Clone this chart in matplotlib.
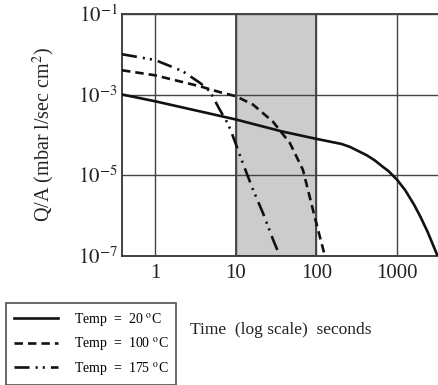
import matplotlib
matplotlib.use("Agg")
import matplotlib.pyplot as plt
from matplotlib.lines import Line2D

plt.rcParams["font.family"] = ["Liberation Serif", "DejaVu Serif"]
plt.rcParams["mathtext.fontset"] = "stix"

# Leak rate per unit area vs. pump-down time at three bake temperatures
t_20 = [0.39, 1, 10, 38, 100, 205, 260, 420, 530, 670, 780, 1000, 1260, 1630, 1950, 2370, 3160]
q_20 = [1.0e-3, 6.8e-4, 2.4e-4, 1.2e-4, 7.9e-5, 5.9e-5, 5.0e-5, 3.1e-5, 2.3e-5, 1.58e-5,
        1.26e-5, 7.6e-6, 4.2e-6, 1.8e-6, 9.1e-7, 4.0e-7, 1.0e-7]

t_100 = [0.39, 1, 3.6, 6.3, 10, 16.4, 29, 47, 68, 84, 95, 110, 127]
q_100 = [4.0e-3, 3.0e-3, 1.6e-3, 1.15e-3, 9.1e-4, 5.6e-4, 2.1e-4, 6.2e-5, 1.35e-5,
         2.5e-6, 9.3e-7, 3.0e-7, 1.0e-7]

t_175 = [0.39, 1, 2.2, 3.6, 4.8, 6.3, 8.1, 9.3, 11.8, 16.4, 21.9, 29, 35]
q_175 = [1.0e-2, 7.2e-3, 3.8e-3, 1.95e-3, 1.2e-3, 4.3e-4, 1.8e-4, 8.9e-5, 2.4e-5,
         4.3e-6, 1.1e-6, 2.5e-7, 1.0e-7]

labels = ["Temp  =  20 $^{\\mathrm{o}}$C",
          "Temp  =  100 $^{\\mathrm{o}}$C",
          "Temp  =  175 $^{\\mathrm{o}}$C"]

x_ticks = [1, 10, 100, 1000]
x_ticklabels = ["1", "10", "100", "1000"]
y_ticks = [1e-7, 1e-5, 1e-3, 1e-1]
y_ticklabels = ["$10^{-7}$", "$10^{-5}$", "$10^{-3}$", "$10^{-1}$"]
band = (10, 100)

W, H = 439, 385
fig = plt.figure(figsize=(W / 100, H / 100), dpi=100)
ax = fig.add_axes([122 / W, 1 - 255.5 / H, (441 - 122) / W, (255.5 - 14) / H])

ax.set_xscale("log")
ax.set_yscale("log")
ax.set_xlim(0.39, 3500)
ax.set_ylim(1e-7, 1e-1)

ax.axvspan(*band, facecolor="#cccccc", edgecolor="#333333", linewidth=1.2, zorder=0.5)

ax.set_xticks(x_ticks)
ax.set_xticklabels(x_ticklabels)
ax.set_yticks(y_ticks)
ax.set_yticklabels(y_ticklabels)
ax.minorticks_off()
ax.tick_params(length=0, labelsize=15, colors="#222222")
ax.tick_params(axis="x", pad=6)
ax.tick_params(axis="y", pad=3)
ax.grid(True, color="#444444", linewidth=1.0, zorder=0.8)
ax.set_axisbelow(False)
for s in ax.spines.values():
    s.set_color("#333333")
    s.set_linewidth(1.3)
ax.spines["right"].set_visible(False)

lw = 1.9
ls_100 = (0, (3.2, 1.9))
ls_175 = (0, (5.7, 2.3, 0.8, 1.9, 0.8, 2.3))
ax.plot(t_20, q_20, color="#111111", lw=lw, linestyle="-", zorder=3)
ax.plot(t_100, q_100, color="#111111", lw=lw, linestyle=ls_100, zorder=3)
ax.plot(t_175, q_175, color="#111111", lw=lw, linestyle=ls_175, zorder=3)

ax.set_ylabel("Q/A (mbar l/sec cm$^2$)", fontsize=14.5, color="#222222", labelpad=15)

handles = [Line2D([], [], color="#111111", lw=lw, linestyle="-"),
           Line2D([], [], color="#111111", lw=lw, linestyle=ls_100),
           Line2D([], [], color="#111111", lw=lw, linestyle=ls_175)]
leg = fig.legend(handles, labels, loc="upper left",
                 bbox_to_anchor=(6 / W, 1 - 303 / H), fontsize=10,
                 frameon=True, fancybox=False, edgecolor="#222222",
                 handlelength=3.2, handletextpad=1.15, labelspacing=0.56,
                 borderpad=0.55, borderaxespad=0)
leg.get_frame().set_linewidth(1.2)

fig.text(190 / W, 1 - 330 / H, "Time  (log scale)  seconds", fontsize=12.5,
         color="#222222", va="center", ha="left")

fig.savefig("out.png", dpi=100)
